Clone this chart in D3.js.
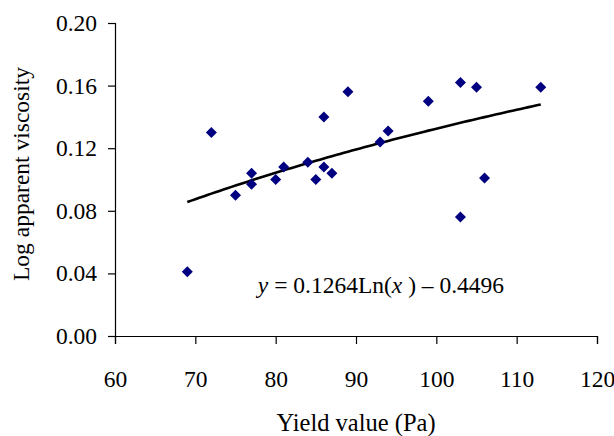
<!DOCTYPE html>
<html>
<head>
<meta charset="utf-8">
<script src="https://cdn.jsdelivr.net/npm/d3@7"></script>
<style>
  body { margin: 0; background: #fff; }
  text { font-family: "Liberation Serif", "DejaVu Serif", serif; fill: #000; }
</style>
</head>
<body>
<div id="chart"></div>
<script>
// yield value (Pa) of each sample
const yieldValues = [69, 72, 75, 77, 77, 80, 81, 84, 85, 86, 86, 87, 89, 93, 94, 99, 103, 103, 105, 106, 113];
// log apparent viscosity of each sample
const logViscosity = [0.041, 0.130, 0.090, 0.104, 0.097, 0.100, 0.108, 0.111, 0.100, 0.140, 0.108, 0.104, 0.156, 0.124, 0.131, 0.150, 0.162, 0.076, 0.159, 0.101, 0.159];
const xTicks = [60, 70, 80, 90, 100, 110, 120];
const yTicks = [0, 0.04, 0.08, 0.12, 0.16, 0.20];
// log trendline shown on the chart
const fitA = 0.1264, fitB = -0.4496;

const width = 614, height = 436;
const margin = {top: 23, right: 17, bottom: 100, left: 115};

const svg = d3.select("#chart").append("svg")
    .attr("width", width)
    .attr("height", height);

const x = d3.scaleLinear().domain([60, 120]).range([margin.left, width - margin.right]);
const y = d3.scaleLinear().domain([0, 0.20]).range([height - margin.bottom, margin.top]);

// y axis
const yAxis = svg.append("g")
    .attr("transform", `translate(${margin.left},0)`)
    .call(d3.axisLeft(y).tickValues(yTicks).tickFormat(d3.format(".2f")).tickSize(7).tickPadding(11));
// x axis
const xAxis = svg.append("g")
    .attr("transform", `translate(0,${height - margin.bottom})`)
    .call(d3.axisBottom(x).tickValues(xTicks).tickSize(8).tickPadding(26));

[xAxis, yAxis].forEach(function (g) {
    g.select(".domain").attr("stroke", "#000").attr("stroke-width", 1.2);
    g.selectAll(".tick line").attr("stroke", "#000").attr("stroke-width", 1.2);
    g.selectAll(".tick text").attr("font-size", 23.5).attr("font-family", "Liberation Serif");
});

// trendline from the fitted equation
const xs = d3.range(d3.min(yieldValues), d3.max(yieldValues) + 0.01, 0.5);
svg.append("path")
    .datum(xs)
    .attr("fill", "none")
    .attr("stroke", "#000")
    .attr("stroke-width", 2.6)
    .attr("d", d3.line()
        .x(d => x(d))
        .y(d => y(fitA * Math.log(d) + fitB)));

// points
const data = yieldValues.map((v, i) => ({x: v, y: logViscosity[i]}));
svg.selectAll(".pt").data(data)
    .enter().append("path")
    .attr("class", "pt")
    .attr("transform", d => `translate(${x(d.x)},${y(d.y)})`)
    .attr("d", "M0,-5.5L5.5,0L0,5.5L-5.5,0Z")
    .attr("fill", "#000080");

// equation label
const eq = svg.append("text")
    .attr("x", 381)
    .attr("y", 293)
    .attr("text-anchor", "middle")
    .attr("font-size", 23.5);
eq.append("tspan").attr("font-style", "italic").text("y");
eq.append("tspan").text(" = 0.1264Ln(");
eq.append("tspan").attr("font-style", "italic").text("x");
eq.append("tspan").text(" ) \u2013 0.4496");

// axis titles
svg.append("text")
    .attr("x", 356)
    .attr("y", 431)
    .attr("text-anchor", "middle")
    .attr("font-size", 24.5)
    .text("Yield value (Pa)");

svg.append("text")
    .attr("transform", `translate(29,174) rotate(-90)`)
    .attr("text-anchor", "middle")
    .attr("font-size", 23.5)
    .text("Log apparent viscosity");
</script>
</body>
</html>
